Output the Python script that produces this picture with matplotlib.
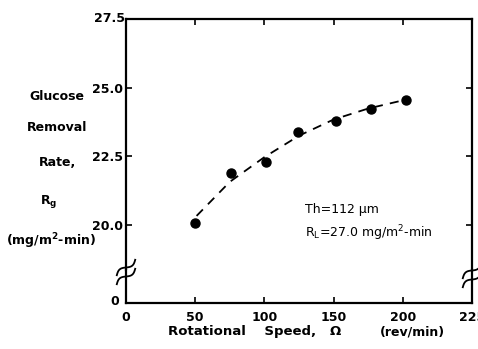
import numpy as np
import matplotlib
matplotlib.use("Agg")
import matplotlib.pyplot as plt

# ---- data ----
speed = [50, 76, 101, 124, 152, 177, 202]
removal_rate = [20.07, 21.9, 22.29, 23.38, 23.79, 24.22, 24.55]
curve_x = [51, 75, 100, 125, 150, 175, 202]
curve_y = [20.33, 21.57, 22.47, 23.25, 23.84, 24.24, 24.56]
x_ticks = [0, 50, 100, 150, 200, 250]
x_tick_labels = ["0", "50", "100", "150", "200", "225"]
y_ticks_top = [20.0, 22.5, 25.0, 27.5]
y_tick_labels_top = ["20.0", "22.5", "25.0", "27.5"]
y_ticks_bottom = [0]
y_tick_labels_bottom = ["0"]

W, H = 478, 349
fig = plt.figure(figsize=(W / 100, H / 100), dpi=100)
FONT = dict(family="DejaVu Sans", fontweight="bold")
FS = 9

def fx(px):
    return px / W

def fy(py):
    return 1 - py / H

left, right = 126, 472
top, brk, bottom = 19, 270, 303
ax = fig.add_axes([fx(left), fy(brk), fx(right) - fx(left), fy(top) - fy(brk)])
axb = fig.add_axes([fx(left), fy(bottom), fx(right) - fx(left), fy(brk) - fy(bottom)], sharex=ax)

for a in (ax, axb):
    a.set_xlim(0, 250)
    for s in a.spines.values():
        s.set_linewidth(1.6)
        s.set_color("black")
    a.tick_params(direction="in", length=4, width=1.2, colors="black")

ax.set_ylim(18.36, 27.5)
ax.spines["bottom"].set_visible(False)
ax.set_yticks(y_ticks_top[:-1])
ax.set_yticklabels(y_tick_labels_top[:-1], fontsize=FS, **FONT)
ax.tick_params(axis="y", left=True, right=True, pad=2)
ax.tick_params(axis="x", top=True, bottom=False, labelbottom=False)
ax.set_xticks([50, 100, 150, 200])
ax.text(-0.004, 1.0, y_tick_labels_top[-1], transform=ax.transAxes, ha="right",
        va="center", fontsize=FS, **FONT)

axb.set_ylim(-0.1, 1.0)
axb.spines["top"].set_visible(False)
axb.set_yticks(y_ticks_bottom)
axb.set_yticklabels(y_tick_labels_bottom, fontsize=FS, **FONT)
axb.tick_params(axis="y", left=False, right=False, pad=5)
axb.set_xticks(x_ticks)
axb.set_xticklabels(x_tick_labels, fontsize=FS, **FONT)
axb.tick_params(axis="x", bottom=True, top=False, pad=6)
for t in axb.xaxis.get_major_ticks():
    if t.get_loc() in (0, 250):
        t.tick1line.set_visible(False)

# data
ax.plot(curve_x, curve_y, color="black", lw=1.3, ls=(0, (5, 4)), zorder=2)
ax.plot(speed, removal_rate, "o", color="black", ms=6.5, zorder=3)

# annotations
ax.text(129, 20.55, "Th=112 μm", fontsize=FS, family="DejaVu Sans", va="center", ha="left")
ax.text(129, 19.7, r"R$_\mathregular{L}$=27.0 mg/m$^\mathregular{2}$-min", fontsize=FS,
        family="DejaVu Sans", va="center", ha="left")

# y label lines
for txt, py in [("Glucose", 97), ("Removal", 128), ("Rate,", 163)]:
    fig.text(fx(57), fy(py), txt, ha="center", va="center", fontsize=FS, **FONT)
fig.text(fx(49), fy(201), r"R$_\mathbf{g}$", ha="center", va="center", fontsize=FS, **FONT)
fig.text(fx(51), fy(241), r"(mg/m$^\mathbf{2}$-min)", ha="center", va="center", fontsize=FS, **FONT)

# x label
fig.text(fx(255), fy(332), "Rotational    Speed,   Ω", ha="center", va="center",
         fontsize=9.5, **FONT)
fig.text(fx(412), fy(332), "(rev/min)", ha="center", va="center", fontsize=FS, **FONT)

# break marks (tilted tilde strokes crossing the spine)
def break_mark(cx, cy):
    th = np.deg2rad(40)
    s = np.linspace(-1, 1, 40)
    L, A = 12, 2.6
    for off in (-4.5, 4.5):
        bx = cx + L * s * np.cos(th)
        by = cy + off - L * s * np.sin(th)
        w = A * np.sin(np.pi * s)
        xs = bx + w * np.sin(th)
        ys = by + w * np.cos(th)
        fig.add_artist(plt.Line2D([fx(v) for v in xs], [fy(v) for v in ys],
                                  color="black", lw=1.3, transform=fig.transFigure, zorder=5))

break_mark(left, 272)
break_mark(right, 275)

fig.savefig("out.png", dpi=100)
